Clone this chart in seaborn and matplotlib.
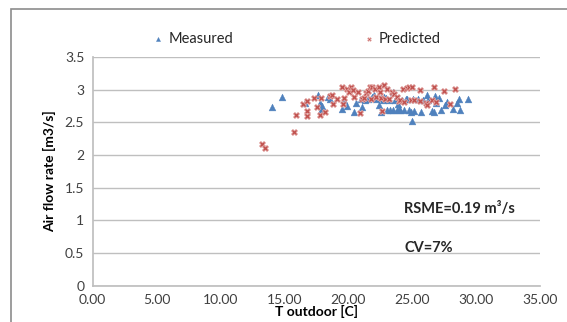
import matplotlib
matplotlib.use("Agg")
import matplotlib.pyplot as plt
import seaborn as sns
import pandas as pd
from matplotlib.patches import Rectangle

measured_t = [14.05, 14.81, 17.67, 16.6, 17.84, 17.9, 18.0, 18.4, 18.6, 19.5, 19.65, 19.9,
              20.45, 20.6, 21.1, 21.35, 21.6, 21.9, 22.05, 22.2, 22.4, 22.55, 22.7, 22.8,
              23.05, 23.2, 23.3, 23.5, 23.55, 23.7, 23.8, 23.9, 24.0, 24.1, 24.25, 24.4,
              24.6, 24.75, 24.9, 25.0, 25.1, 25.2, 25.7, 25.9, 26.15, 26.3, 26.6, 26.7,
              26.8, 26.9, 27.15, 27.25, 27.6, 27.75, 28.2, 28.55, 28.65, 28.8, 29.4,
              21.0, 22.6, 23.0, 24.5, 25.5]
measured_v = [2.74, 2.89, 2.92, 2.80, 2.80, 2.69, 2.75, 2.89, 2.86, 2.71, 2.84, 2.75,
              2.66, 2.79, 2.73, 2.84, 2.86, 2.89, 2.92, 2.86, 2.77, 2.66, 2.84, 2.89,
              2.69, 2.84, 2.69, 2.69, 2.97, 2.84, 2.69, 2.78, 2.71, 2.69, 2.84, 2.69,
              2.86, 2.69, 2.66, 2.52, 2.86, 2.67, 2.66, 2.84, 2.92, 2.84, 2.67, 2.66,
              2.90, 2.80, 2.88, 2.69, 2.76, 2.81, 2.71, 2.79, 2.86, 2.69, 2.86,
              2.86, 2.88, 2.87, 2.85, 2.86]

predicted_t = [13.25, 13.5, 15.8, 15.9, 16.5, 16.75, 16.8, 16.8, 17.3, 17.6, 17.8, 17.9,
               18.2, 18.6, 18.75, 18.85, 19.1, 19.5, 19.6, 19.7, 19.9, 20.1, 20.2, 20.4,
               20.5, 20.8, 20.9, 21.1, 21.25, 21.4, 21.6, 21.7, 21.8, 21.9, 22.1, 22.2,
               22.4, 22.5, 22.6, 22.65, 22.8, 22.9, 23.05, 23.2, 23.45, 23.6, 23.8, 24.0,
               24.1, 24.3, 24.4, 24.6, 24.8, 24.9, 25.0, 25.2, 25.6, 25.6, 26.1, 26.2,
               26.6, 26.75, 26.85, 27.5, 27.95, 28.35]
predicted_v = [2.17, 2.10, 2.35, 2.62, 2.78, 2.82, 2.67, 2.60, 2.88, 2.73, 2.61, 2.88,
               2.66, 2.90, 2.92, 2.78, 2.85, 3.04, 2.78, 2.88, 3.01, 2.96, 3.04, 2.99,
               2.89, 2.96, 2.65, 2.86, 2.88, 2.95, 2.98, 3.04, 2.86, 3.04, 3.01, 2.89,
               3.04, 2.96, 2.88, 2.68, 3.07, 2.86, 3.01, 2.86, 2.97, 2.94, 2.89, 2.82,
               2.84, 3.01, 2.81, 3.02, 3.04, 2.84, 3.04, 2.84, 2.99, 2.82, 2.79, 2.77,
               2.84, 3.04, 2.81, 2.98, 2.78, 3.01]

series_names = ["Measured", "Predicted"]
x_ticks = [0, 5, 10, 15, 20, 25, 30, 35]
y_ticks = [0, 0.5, 1, 1.5, 2, 2.5, 3, 3.5]
x_label = "T outdoor [C]"
y_label = "Air flow rate [m3/s]"
note_rsme = "RSME=0.19 m³/s"
note_cv = "CV=7%"

df_m = pd.DataFrame({"t": measured_t, "v": measured_v})
df_p = pd.DataFrame({"t": predicted_t, "v": predicted_v})

sns.set_theme(style="white")
plt.rcParams["font.family"] = ["Lato", "DejaVu Sans"]

W, H = 567, 322
fig = plt.figure(figsize=(W / 100, H / 100), dpi=100)
ax = fig.add_axes([92.6 / W, 1 - 285.7 / H, (539.6 - 92.6) / W, (285.7 - 57.0) / H])

# figure frame (Excel chart border)
fig.patches.append(Rectangle((10.8 / W, -0.2), 1.2, 1.2 - 9.3 / H,
                             transform=fig.transFigure, fill=False,
                             edgecolor="#8c8c8c", linewidth=1.2, zorder=0))

sns.scatterplot(data=df_m, x="t", y="v", color="#4F81BD", marker="^", s=24,
                linewidth=0.3, edgecolor="#4F81BD", ax=ax, label=series_names[0])
sns.scatterplot(data=df_p, x="t", y="v", color="#C0504D", marker="X", s=20,
                linewidth=0.5, edgecolor="#E6B0AE", ax=ax, label=series_names[1])

ax.set_xlim(0, 35)
ax.set_ylim(0, 3.5)
ax.set_xticks(x_ticks)
ax.set_xticklabels([f"{v:.2f}" for v in x_ticks])
ax.set_yticks(y_ticks)
ax.set_yticklabels([f"{v:g}" for v in y_ticks])
ax.tick_params(axis="both", labelsize=10, labelcolor="#404040", length=0, pad=6)
ax.grid(axis="y", color="#bfbfbf", linewidth=1.0)
ax.grid(axis="x", visible=False)
for side in ["top", "right"]:
    ax.spines[side].set_visible(False)
ax.spines["left"].set_color("#bfbfbf")
ax.spines["bottom"].set_color("#bfbfbf")
ax.set_axisbelow(True)

ax.set_xlabel(x_label, fontsize=10, fontweight="bold", color="black", labelpad=-1)
ax.set_ylabel(y_label, fontsize=10, fontweight="bold", color="black", labelpad=6)

ax.text(24.4, 1.17, note_rsme, fontsize=10.5, fontweight="bold", va="center", ha="left")
ax.text(24.4, 0.57, note_cv, fontsize=10.5, fontweight="bold", va="center", ha="left")

sns.move_legend(ax, "center left", bbox_to_anchor=(145 / W, 1 - 39.3 / H),
                bbox_transform=fig.transFigure, ncol=2, frameon=False, title=None,
                fontsize=10.5, columnspacing=8.9, handletextpad=0.3,
                handlelength=0.8, markerscale=0.6, borderpad=0)

fig.savefig("out.png", dpi=100)
